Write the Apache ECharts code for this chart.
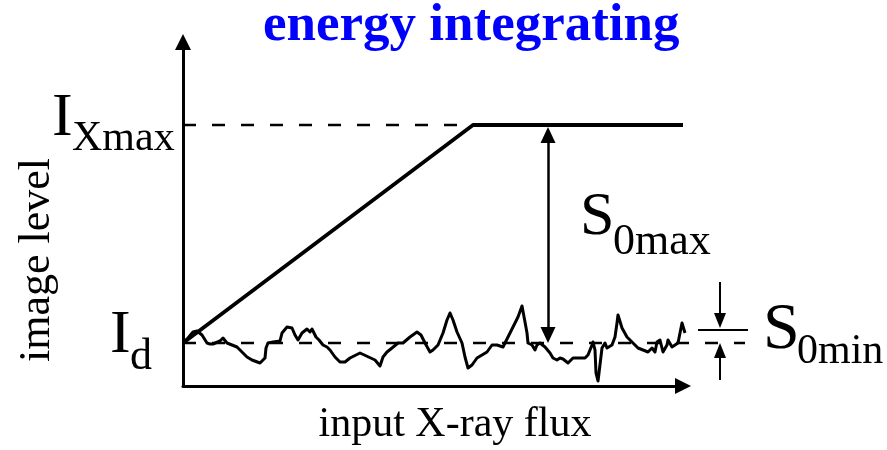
<!DOCTYPE html>
<html>
<head>
<meta charset="utf-8">
<script src="https://cdn.jsdelivr.net/npm/echarts@6/dist/echarts.min.js"></script>
<style>
  html, body { margin: 0; padding: 0; background: #fff; }
  #chart { width: 887px; height: 450px; }
</style>
</head>
<body>
<div id="chart"></div>
<script>
// Schematic response of an energy-integrating detector.
// Units: x = input flux (arbitrary), y = image level (arbitrary).
const titleText = 'energy integrating';
const xAxisName = 'input X-ray flux';
const yAxisName = 'image level';

const levelDark = 43;     // I_d
const levelMax = 261;     // I_Xmax
const saturationX = 290;  // flux where the response saturates
const endX = 500;

// detector response: linear ramp, then flat at saturation
const responseCurve = [[0, levelDark], [saturationX, levelMax], [endX, levelMax]];
const maxGuide = [[0, levelMax], [saturationX, levelMax]];
const darkGuide = [[0, levelDark], [562, levelDark]];

// dark-level noise trace
const noiseX = [0,5,10,14,19,24,27,30,37,40,44,49,54,59,64,69,77,82,83,85,90,97,99,104,109,112,115,119,124,127,129,131,133,136,138,140,144,147,152,157,162,167,177,192,197,200,204,209,215,220,227,234,238,242,247,250,255,260,264,267,270,274,279,282,285,289,294,304,309,314,320,325,330,335,339,342,344,345,349,352,354,357,362,367,370,374,377,380,385,390,399,402,405,409,410,412,413,415,416,419,422,424,429,432,434,435,439,444,450,455,460,465,469,472,474,477,480,484,485,489,492,495,499,500,502];
const noiseY = [43,48,54,55,51,43,42,42,45,48,43,41,39,34,29,26,23,28,38,43,44,45,53,59,58,51,46,53,57,54,57,53,49,46,47,41,39,36,29,24,24,28,33,26,20,29,34,38,43,43,49,54,51,43,34,36,41,53,66,73,66,54,43,29,18,21,28,34,41,41,39,49,59,69,80,64,53,43,41,36,41,43,39,33,28,26,28,27,23,28,28,28,31,41,44,36,13,5,13,38,43,38,41,49,63,71,58,49,43,38,36,34,38,34,44,46,34,41,46,39,41,43,63,61,53,41];
const noiseData = noiseX.map((x, i) => [x, noiseY[i]]);

// S0max span: dark level up to (just under) the saturation line
const s0maxX = 365;
const s0maxTop = 259;
const bigHead = 16;   // arrowhead length of the S0max marker
// S0min marker: small arrows bracketing the noise band
const s0minX = 537;
const s0minTop = 56;
const s0minArrowTop = [104, 58];
const s0minArrowBottom = [6, 43];
const s0minBar = [515, 565];
const smallHead = 15; // arrowhead length of the S0min marker

const serif = '"Liberation Serif", "Times New Roman", serif';
const chart = echarts.init(document.getElementById('chart'));

const hiddenAxis = (max, grid) => ({
  type: 'value', min: 0, max: max, gridIndex: grid, show: false
});
const arrowAxis = (max) => ({
  type: 'value', min: 0, max: max, gridIndex: 0,
  axisLine: { show: true, lineStyle: { color: '#000', width: 3 }, symbol: ['none', 'triangle'], symbolSize: [16, 16], symbolOffset: [0, 0] },
  axisTick: { show: false }, axisLabel: { show: false }, splitLine: { show: false }
});

const dashed = { color: '#000', width: 2.5, type: [13, 16] };

// markLine arrow symbols sit centred on the end point, so pull the end
// back by half a head to land the tip on the target value
const tipEnd = (from, to, head) => to - Math.sign(to - from) * head / 2;

// text label with a subscript, placed by baseline-centred anchors
function subLabel(x, y, main, size, sx, sy, sub, subSize) {
  return [
    { type: 'text', x: x, y: y, style: { text: main, font: size + 'px ' + serif, fill: '#000', verticalAlign: 'middle' } },
    { type: 'text', x: sx, y: sy, style: { text: sub, font: subSize + 'px ' + serif, fill: '#000', verticalAlign: 'middle' } }
  ];
}

chart.setOption({
  animation: false,
  backgroundColor: '#fff',
  grid: [
    { left: 183, right: 204, top: 42, bottom: 64 },
    { left: 183, right: 0, top: 42, bottom: 64 }
  ],
  xAxis: [arrowAxis(500), hiddenAxis(704, 1)],
  yAxis: [arrowAxis(344), hiddenAxis(344, 1)],
  series: [
    {
      type: 'line', xAxisIndex: 0, yAxisIndex: 0, data: maxGuide, symbol: 'none',
      lineStyle: dashed
    },
    {
      type: 'line', xAxisIndex: 1, yAxisIndex: 1, data: darkGuide, symbol: 'none',
      lineStyle: dashed
    },
    {
      type: 'line', xAxisIndex: 1, yAxisIndex: 1, data: noiseData, symbol: 'none',
      lineStyle: { color: '#000', width: 3, join: 'round' },
      markLine: {
        silent: true, animation: false,
        label: { show: false },
        lineStyle: { color: '#000', width: 2, type: 'solid' },
        symbolSize: [12, smallHead],
        data: [
          [{ coord: [s0minX, s0minArrowTop[0]], symbol: 'none' },
           { coord: [s0minX, tipEnd(s0minArrowTop[0], s0minArrowTop[1], smallHead)], symbol: 'triangle' }],
          [{ coord: [s0minX, s0minArrowBottom[0]], symbol: 'none' },
           { coord: [s0minX, tipEnd(s0minArrowBottom[0], s0minArrowBottom[1], smallHead)], symbol: 'triangle' }],
          [{ coord: [s0minBar[0], s0minTop], symbol: 'none' }, { coord: [s0minBar[1], s0minTop], symbol: 'none' }]
        ]
      }
    },
    {
      type: 'line', xAxisIndex: 0, yAxisIndex: 0, data: responseCurve, symbol: 'none',
      lineStyle: { color: '#000', width: 3.8 },
      markLine: {
        silent: true, animation: false,
        label: { show: false },
        lineStyle: { color: '#000', width: 2.5, type: 'solid' },
        symbolSize: [15, bigHead],
        data: [
          [{ coord: [s0maxX, tipEnd(s0maxTop, levelDark, bigHead)], symbol: 'triangle' },
           { coord: [s0maxX, tipEnd(levelDark, s0maxTop, bigHead)], symbol: 'triangle' }]
        ]
      }
    }
  ],
  graphic: [
    {
      type: 'text', x: 263, y: 26,
      style: { text: titleText, font: 'bold 53px ' + serif, fill: '#0000ff', verticalAlign: 'middle' }
    },
    {
      type: 'text', x: 455, y: 425,
      style: { text: xAxisName, font: '42px ' + serif, fill: '#000', align: 'center', verticalAlign: 'middle' }
    },
    {
      type: 'text', x: 37, y: 260, rotation: Math.PI / 2,
      style: { text: yAxisName, font: '44px ' + serif, fill: '#000', align: 'center', verticalAlign: 'middle' }
    },
    ...subLabel(52, 119, 'I', 62, 72, 139, 'Xmax', 42),
    ...subLabel(110, 336, 'I', 62, 130, 357, 'd', 44),
    ...subLabel(580, 218, 'S', 62, 613, 242, '0max', 44),
    ...subLabel(763, 331, 'S', 66, 797, 352, '0min', 42)
  ]
});
</script>
</body>
</html>
